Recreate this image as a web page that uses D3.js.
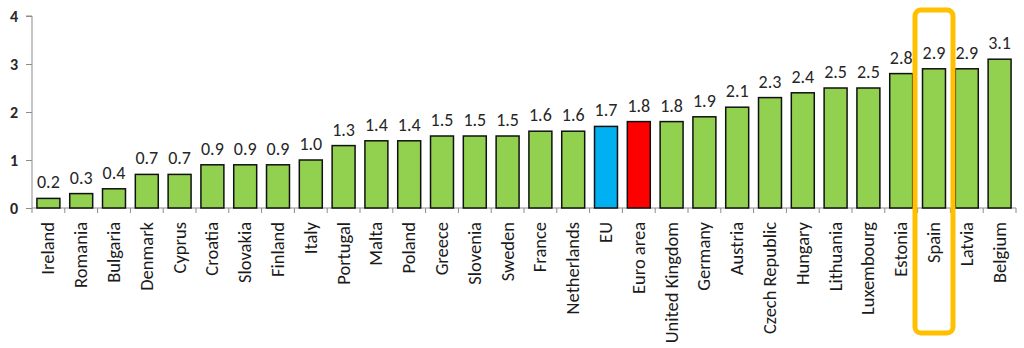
<!DOCTYPE html>
<html><head><meta charset="utf-8">
<script src="https://cdn.jsdelivr.net/npm/d3@7"></script>
<style>body{margin:0;background:#fff}svg{display:block}</style>
</head><body>
<svg id="c" width="1024" height="348"></svg>
<script>
const categories = ["Ireland","Romania","Bulgaria","Denmark","Cyprus","Croatia","Slovakia","Finland","Italy","Portugal","Malta","Poland","Greece","Slovenia","Sweden","France","Netherlands","EU","Euro area","United Kingdom","Germany","Austria","Czech Republic","Hungary","Lithuania","Luxembourg","Estonia","Spain","Latvia","Belgium"];
const values = [0.2,0.3,0.4,0.7,0.7,0.9,0.9,0.9,1.0,1.3,1.4,1.4,1.5,1.5,1.5,1.6,1.6,1.7,1.8,1.8,1.9,2.1,2.3,2.4,2.5,2.5,2.8,2.9,2.9,3.1];
const yTicks = [0,1,2,3,4];
const highlighted = "Spain";
const colorFor = c => c === "EU" ? "#00B0F0" : c === "Euro area" ? "#FF0000" : "#92D050";

const svg = d3.select("#c");
const font = "Carlito, Lato, 'Open Sans', sans-serif";
const x = d3.scaleBand().domain(categories).range([32, 1016]).paddingInner(0.3).paddingOuter(0.15);
const y = d3.scaleLinear().domain([0, 4]).range([208, 16]);

// y axis
const ya = svg.append("g").attr("transform", "translate(32,0)")
  .call(d3.axisLeft(y).tickValues(yTicks).tickSize(6).tickFormat(d3.format("d")));
ya.select(".domain").attr("stroke", "#8c8c8c").attr("d", `M-6,${y(4)}H0V${y(0)}`);
ya.selectAll(".tick line").attr("stroke", "#8c8c8c");
ya.selectAll("text").attr("font-family", font).attr("font-size", 16).attr("font-weight", "bold").attr("fill", "#262626").attr("x", -14);

// x axis line with category separators
const step = x.step();
const xb = d3.scaleLinear().domain([0, categories.length]).range([32, 32 + step * categories.length]);
svg.append("line").attr("x1", 32).attr("x2", xb(categories.length)).attr("y1", y(0)).attr("y2", y(0)).attr("stroke", "#8c8c8c");
svg.append("g").selectAll("line").data(d3.range(categories.length + 1)).join("line")
  .attr("x1", i => xb(i)).attr("x2", i => xb(i)).attr("y1", y(0)).attr("y2", y(0) + 5).attr("stroke", "#8c8c8c");

// bars
svg.append("g").selectAll("rect").data(categories).join("rect")
  .attr("x", c => x(c)).attr("width", x.bandwidth())
  .attr("y", (c, i) => y(values[i])).attr("height", (c, i) => y(0) - y(values[i]))
  .attr("fill", c => colorFor(c)).attr("stroke", "#111").attr("stroke-width", 1.5);

// value labels
svg.append("g").selectAll("text").data(categories).join("text")
  .attr("x", c => x(c) + x.bandwidth() / 2).attr("y", (c, i) => y(values[i]) - 10)
  .attr("text-anchor", "middle").attr("font-family", font).attr("font-size", 18).attr("fill", "#262626")
  .text((c, i) => values[i].toFixed(1));

// category labels
svg.append("g").selectAll("text").data(categories).join("text")
  .attr("transform", c => `translate(${x(c) + x.bandwidth() / 2 + 6},${y(0) + 14}) rotate(-90)`)
  .attr("text-anchor", "end").attr("font-family", font).attr("font-size", 18.5).attr("fill", "#1a1a1a")
  .text(c => c);

// highlight box
const hx = x(highlighted) + x.bandwidth() / 2;
svg.append("rect").attr("x", hx - 19).attr("y", 10).attr("width", 38).attr("height", 323)
  .attr("rx", 6).attr("fill", "none").attr("stroke", "#FFC000").attr("stroke-width", 5);
</script>
</body></html>
